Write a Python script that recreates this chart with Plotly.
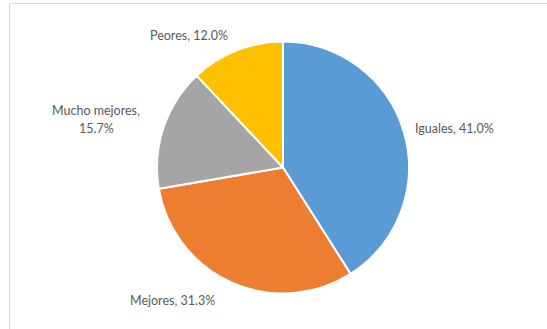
import plotly.graph_objects as go

W, H = 547, 329

categories = ["Iguales", "Mejores", "Mucho mejores", "Peores"]
values = [41.0, 31.3, 15.7, 12.0]
colors = ["#5B9BD5", "#ED7D31", "#A5A5A5", "#FFC000"]
label_breaks = ["Iguales, {v:.1f}%", "Mejores, {v:.1f}%", "Mucho mejores,<br>{v:.1f}%", "Peores, {v:.1f}%"]

# pie placement in pixels
cx, cy, r = 283, 167.5, 126

# label anchor positions in pixels (x, y of the first line)
label_pos = [(454, 128), (172, 300), (96, 110), (189, 35)]
line_gap = 18

fig = go.Figure(go.Pie(
    labels=categories,
    values=values,
    sort=False,
    direction="clockwise",
    rotation=0,
    marker=dict(colors=colors, line=dict(color="white", width=2)),
    textinfo="none",
    hoverinfo="label+percent",
    showlegend=False,
    domain=dict(x=[(cx - r) / W, (cx + r) / W], y=[1 - (cy + r) / H, 1 - (cy - r) / H]),
))

annotations = []
for tmpl, v, (px, py) in zip(label_breaks, values, label_pos):
    for i, line in enumerate(tmpl.format(v=v).split("<br>")):
        annotations.append(dict(
            text=line,
            x=px / W, y=1 - (py + i * line_gap) / H, xref="paper", yref="paper",
            xanchor="center", yanchor="middle", showarrow=False, align="center",
            font=dict(family="Lato, Open Sans, sans-serif", size=12.5, color="#595959"),
        ))

frame = "#D9D9D9"
shapes = [
    dict(type="line", xref="paper", yref="paper", x0=9.5 / W, x1=1, y0=1 - 3.5 / H, y1=1 - 3.5 / H,
         line=dict(color=frame, width=1)),
    dict(type="line", xref="paper", yref="paper", x0=9.5 / W, x1=9.5 / W, y0=0, y1=1 - 3.5 / H,
         line=dict(color=frame, width=1)),
]

fig.update_layout(
    width=W, height=H,
    margin=dict(l=0, r=0, t=0, b=0),
    paper_bgcolor="white", plot_bgcolor="white",
    annotations=annotations, shapes=shapes,
)

fig.write_html("out.html")
